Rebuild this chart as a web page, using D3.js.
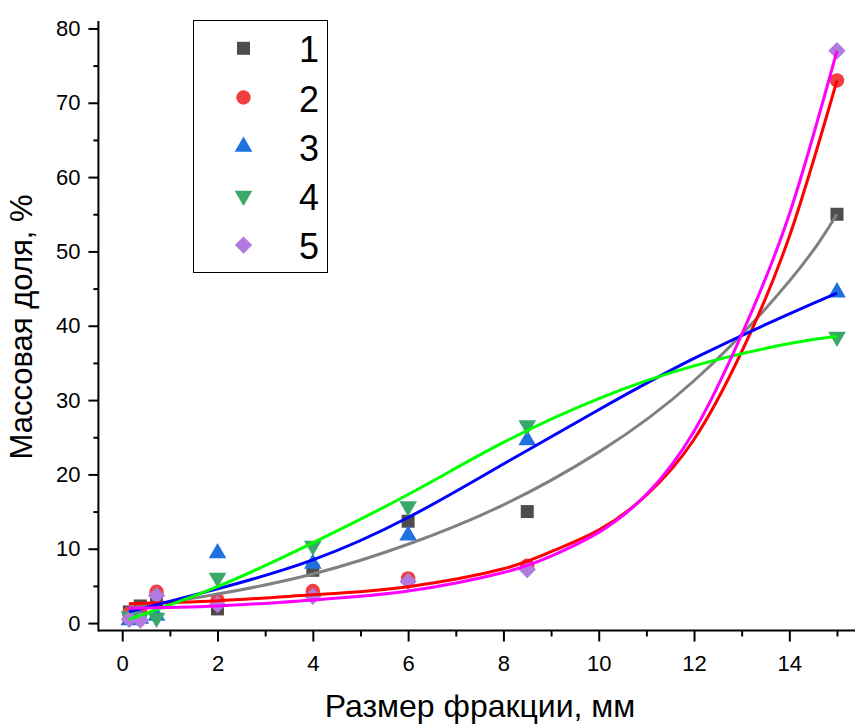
<!DOCTYPE html>
<html lang="ru">
  <head>
    <meta charset="utf-8" />
    <title>Массовая доля</title>
    <script src="https://d3js.org/d3.v7.min.js"></script>
    <style>
      body { margin: 0; background: #fff; }
      text { font-family: "Liberation Sans", Arial, sans-serif; fill: #000; }
    </style>
  </head>
  <body>
    <script>

      // точки (размер фракции, мм)
      var ptX = [0.15, 0.38, 0.72, 2, 4, 6, 8.5, 15];
      var s1 = [1.5, 2.3, 3.0, 1.9, 7.1, 13.7, 15.0, 55.0];
      var s2 = [1.3, 1.6, 4.2, 3.1, 4.3, 6.0, 7.7, 73.0];
      var s3 = [0.4, 0.6, 1.0, 9.4, 8.0, 11.8, 24.6, 44.5];
      var s4 = [0.9, 0.7, 0.7, 6.1, 10.4, 15.7, 26.6, 38.5];
      var s5 = [0.5, 0.4, 3.7, 2.5, 3.6, 5.6, 7.2, 77.0];

      // аппроксимирующие кривые
      var fitX = [0.14, 2, 4, 6, 8, 10, 12, 14, 15];
      var fit1 = [2.0, 3.9, 6.6, 10.6, 15.9, 23.0, 32.6, 46.0, 55.0];
      var fit3 = [1.5, 4.6, 8.5, 14.2, 21.4, 28.7, 35.6, 41.6, 44.4];
      var fit4 = [0.5, 4.9, 10.8, 17.3, 24.3, 30.2, 34.6, 37.6, 38.6];
      var fitXs = [0.14, 2, 4, 6, 8, 9, 10, 11, 12, 13, 14, 15];
      var fit2 = [2.6, 3.0, 3.8, 4.9, 7.3, 9.6, 12.5, 17.2, 24.7, 36.5, 52.0, 73.0];
      var fit5 = [2.0, 2.3, 3.1, 4.3, 6.8, 9.0, 12.2, 17.3, 25.8, 38.8, 55.0, 77.0];

      var seriesNames = ["1", "2", "3", "4", "5"];
      var xTicks = [0, 2, 4, 6, 8, 10, 12, 14];
      var xMinor = [1, 3, 5, 7, 9, 11, 13, 15];
      var yTicks = [0, 10, 20, 30, 40, 50, 60, 70, 80];
      var yMinor = [5, 15, 25, 35, 45, 55, 65, 75];

      var width = 855;
      var height = 725;

      var markerColors = ["#4d4d4d", "#ef3f3f", "#1f70e0", "#39a96b", "#b07ade"];
      var lineColors = ["#808080", "#ff0000", "#0000ff", "#00ff00", "#ff00ff"];

      var x = d3.scaleLinear().domain([-0.5, 15.5]).range([98.4, 860.8]);
      var y = d3.scaleLinear().domain([-1, 81]).range([630.5, 21]);

      var svg = d3
        .select("body")
        .append("svg")
        .attr("width", width)
        .attr("height", height);

      // оси
      var xAxis = svg.append("g").attr("transform", "translate(0," + y(-1) + ")");
      xAxis.call(d3.axisBottom(x).tickValues(xTicks).tickSize(11).tickPadding(14).tickFormat(d3.format("d")));
      xAxis.append("g").call(d3.axisBottom(x).tickValues(xMinor).tickSize(6).tickFormat(""));

      var yAxis = svg.append("g").attr("transform", "translate(" + x(-0.5) + ",0)");
      yAxis.call(d3.axisLeft(y).tickValues(yTicks).tickSize(10).tickPadding(8).tickFormat(d3.format("d")));
      yAxis.append("g").call(d3.axisLeft(y).tickValues(yMinor).tickSize(5).tickFormat(""));

      svg.selectAll(".domain").remove();
      svg.selectAll(".tick line").attr("stroke", "#000").attr("stroke-width", 2);
      svg.selectAll(".tick text").style("font-size", "22px").attr("font-family", null);

      svg.append("line")
        .attr("x1", x(-0.5)).attr("x2", width)
        .attr("y1", y(-1)).attr("y2", y(-1))
        .attr("stroke", "#000").attr("stroke-width", 2);
      svg.append("line")
        .attr("x1", x(-0.5)).attr("x2", x(-0.5))
        .attr("y1", y(81)).attr("y2", y(-1) + 1)
        .attr("stroke", "#000").attr("stroke-width", 2);

      // подписи осей
      svg.append("text")
        .attr("x", 480)
        .attr("y", 717)
        .attr("text-anchor", "middle")
        .style("font-size", "32px")
        .text("Размер фракции, мм");

      svg.append("text")
        .attr("transform", "translate(32,327) rotate(-90)")
        .attr("text-anchor", "middle")
        .style("font-size", "31px")
        .text("Массовая доля, %");

      // маркеры
      var symbols = [
        d3.symbol().type(d3.symbolSquare).size(169),
        d3.symbol().type(d3.symbolCircle).size(165),
        d3.symbol().type(d3.symbolTriangle).size(135),
        d3.symbol().type(d3.symbolTriangle).size(135),
        d3.symbol().type(d3.symbolSquare).size(150)
      ];
      var rotations = [0, 0, 0, 180, 45];
      var allSeries = [s1, s2, s3, s4, s5];

      allSeries.forEach(function (vals, i) {
        svg.append("g")
          .selectAll("path")
          .data(vals)
          .enter()
          .append("path")
          .attr("d", symbols[i])
          .attr("fill", markerColors[i])
          .attr("transform", function (d, j) {
            return "translate(" + x(ptX[j]) + "," + y(d) + ") rotate(" + rotations[i] + ")";
          });
      });

      // кривые
      var fits = [
        { xs: fitX, ys: fit1 },
        { xs: fitXs, ys: fit2 },
        { xs: fitX, ys: fit3 },
        { xs: fitX, ys: fit4 },
        { xs: fitXs, ys: fit5 }
      ];

      var line = d3.line()
        .x(function (d) { return x(d[0]); })
        .y(function (d) { return y(d[1]); })
        .curve(d3.curveNatural);

      fits.forEach(function (f, i) {
        svg.append("path")
          .datum(d3.zip(f.xs, f.ys))
          .attr("d", line)
          .attr("fill", "none")
          .attr("stroke", lineColors[i])
          .attr("stroke-width", 3);
      });

      // легенда
      var legend = svg.append("g");
      legend.append("rect")
        .attr("x", 193.5).attr("y", 20.5)
        .attr("width", 134).attr("height", 252)
        .attr("fill", "#fff")
        .attr("stroke", "#000")
        .attr("stroke-width", 1);

      seriesNames.forEach(function (name, i) {
        var ly = 48.3 + i * 49.2;
        legend.append("path")
          .attr("d", symbols[i])
          .attr("fill", markerColors[i])
          .attr("transform", "translate(243.5," + ly + ") rotate(" + rotations[i] + ")");
        legend.append("text")
          .attr("x", 299)
          .attr("y", ly + 14)
          .style("font-size", "36px")
          .text(name);
      });

    </script>
  </body>
</html>
